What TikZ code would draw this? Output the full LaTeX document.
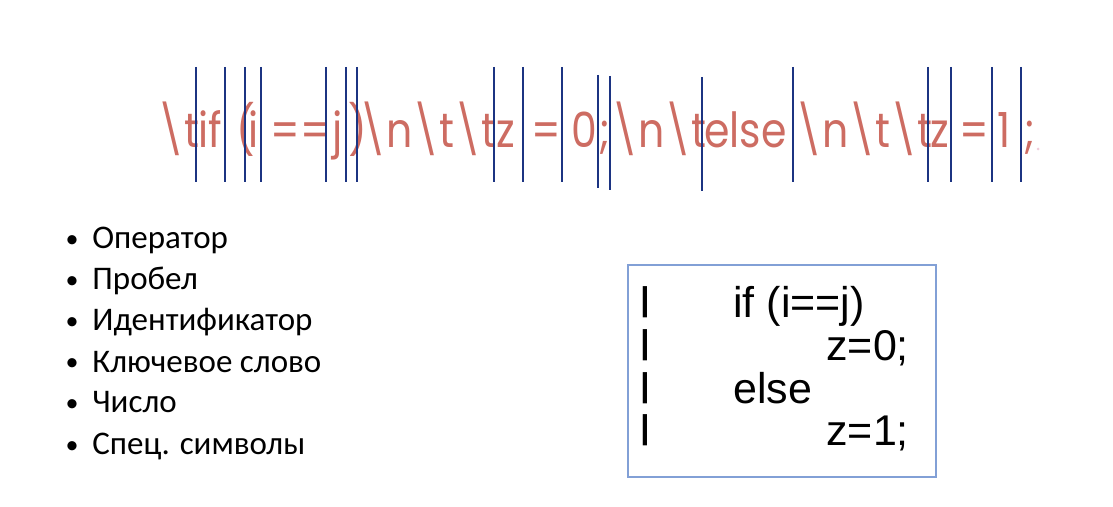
\documentclass[tikz,border=0pt]{standalone}
\usepackage{fontspec}
\setmainfont{Carlito}
\newfontfamily\tokfont{Poppins}
\newfontfamily\codefont{Liberation Sans}
\usetikzlibrary{positioning}

\definecolor{tokred}{RGB}{205,108,98}
\definecolor{sepblue}{RGB}{28,52,130}
\definecolor{boxblue}{RGB}{130,160,214}

\begin{document}
\begin{tikzpicture}[x=0.5pt, y=-0.5pt,
        token/.style={anchor=base west, inner sep=0pt, text=tokred, font=\tokfont\fontsize{20.5}{25}\selectfont},
        sep/.style={sepblue, line width=1pt},
        item/.style={anchor=base west, inner sep=0pt, font=\fontsize{16.5}{20}\selectfont},
        dot/.style={anchor=base, inner sep=0pt, font=\fontsize{13}{16}\selectfont},
        codeline/.style={anchor=base west, inner sep=0pt, font=\codefont\fontsize{21.5}{26}\selectfont},
        bar/.style={anchor=base west, inner sep=0pt, font=\codefont\bfseries\fontsize{16.5}{20}\selectfont},
        codebox/.style={draw=boxblue, line width=0.7pt, minimum width=154pt, minimum height=106pt, inner sep=0pt}
    ]
    \useasboundingbox (0,0) rectangle (1113,507);

    % tokenised line
    \foreach \x/\s [count=\i] in {157/{\textbackslash t}, 198/if, 236/(, 248/i, 270/==, 332/j, 348/),
            359/{\textbackslash n\textbackslash t\textbackslash t}, 496/z, 531/=, 571/0, 599/;,
            611/{\textbackslash n\textbackslash t}, 704/else,
            795/{\textbackslash n\textbackslash t\textbackslash t}, 930/z, 959/=, 997/1, 1024/;}
        \node[token] (t\i) at (\x,148) {\scalebox{1}[1.18]{\s}};
    \fill[blue!30!red!20] (1038,149) circle (1.5);

    % separators
    \foreach \x/\a/\b in {196/67/182, 225/67/182, 245/67/182, 261/67/182, 326/67/182, 346/67/182,
            357/67/182, 494/67/182, 523/67/182, 562/67/182, 598/75/188, 610/76/190, 702/77/191,
            793/67/182, 928/67/182, 951/67/182, 992/67/182, 1021/67/182}
        \draw[sep] (\x,\a) -- (\x,\b);

    % token classes
    \foreach \t [count=\i from 0] in {Оператор, Пробел, Идентификатор, Ключевое слово, Число, Спец. символы} {
        \node[dot] (d\i) at (72,248+41*\i) {•};
        \node[item] (c\i) at (92,249+41*\i) {\t};
    }

    % code box
    \node[codebox] (box) at (782,371) {};
    \foreach \y [count=\i] in {318,361,403,445}
        \node[bar] (b\i) at (640,\y-7) {|};
    \node[codeline] (l1) at (733,318) {if (i==j)};
    \node[codeline] (l2) at (826,361) {z=0;};
    \node[codeline] (l3) at (733,403) {else};
    \node[codeline] (l4) at (826,445) {z=1;};

\end{tikzpicture}
\end{document}
